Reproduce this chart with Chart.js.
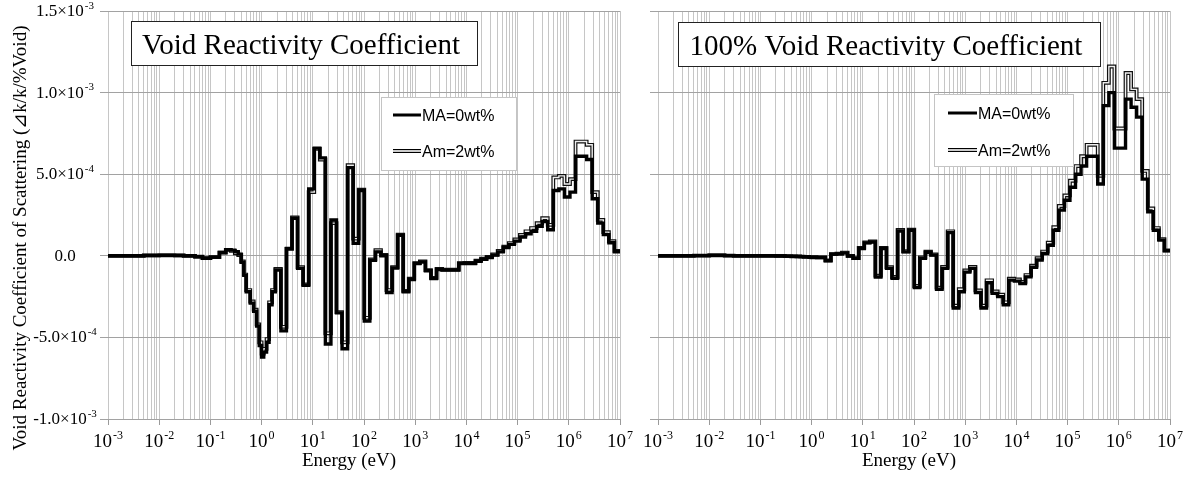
<!DOCTYPE html>
<html>
<head>
<meta charset="utf-8">
<script src="https://cdn.jsdelivr.net/npm/chart.js@4.4.1/dist/chart.umd.min.js"></script>
<style>
  html, body { margin: 0; padding: 0; background: #fff; }
  #wrap { position: relative; width: 1194px; height: 481px; overflow: hidden; }
  #wrap canvas { position: absolute; top: 0; }
  #voidLeft { left: 0; }
  #voidRight { left: 630px; }
</style>
</head>
<body>
<div id="wrap">
  <canvas id="voidLeft" width="640" height="481"></canvas>
  <canvas id="voidRight" width="564" height="481"></canvas>
</div>
<script>
// Group structure: 0.25-lethargy groups from 10 MeV down to ~1.86 eV,
// then a finer set of thermal groups down to 1 meV (lower edges, eV).
const LETHARGY_WIDTH = 0.25;
const FAST_GROUPS = 62;
const thermalEdges = [1.6, 1.4, 1.25, 1.1, 1.0, 0.9, 0.8, 0.7, 0.6, 0.5, 0.45, 0.4, 0.35,
  0.3, 0.25, 0.2, 0.15, 0.1, 0.07, 0.05, 0.03, 0.02, 0.01, 0.005, 0.001];

// Void reactivity (dk/k/%void), group 1 = highest energy
const voidMA0 = [
  2.5e-5, 8.0e-5, 1.3e-4, 2.0e-4, 3.5e-4, 5.9e-4, 6.1e-4, 6.1e-4, 3.9e-4, 3.6e-4,
  4.1e-4, 4.0e-4, 1.6e-4, 2.1e-4, 1.8e-4, 1.5e-4, 1.35e-4, 1.15e-4, 9.0e-5, 7.0e-5,
  5.0e-5, 2.4e-5, 4.0e-6, -1.0e-5, -2.2e-5, -3.3e-5, -4.7e-5, -4.7e-5, -4.7e-5, -8.8e-5,
  -8.8e-5, -8.8e-5, -8.4e-5, -1.4e-4, -9.2e-5, -3.7e-5, -4.7e-5, -1.45e-4, -2.2e-4, 1.25e-4,
  -7.5e-5, -2.25e-4, 0, 2.4e-5, -2.7e-5, -4.0e-4, 4.0e-4, 7.6e-5, 5.4e-4, -5.7e-4,
  -3.5e-4, 2.2e-4, -5.4e-4, 6.0e-4, 6.6e-4, 4.1e-4, -1.8e-4, -7.7e-5, 2.3e-4, 4.5e-5,
  -4.6e-4, -8.7e-5,
  -2.2e-4, -3.0e-4, -5.3e-4, -5.9e-4, -6.2e-4, -5.5e-4, -4.3e-4, -3.4e-4, -2.9e-4, -2.2e-4,
  -1.2e-4, -4.0e-5, 1.0e-5, 2.5e-5, 3.5e-5, 3.8e-5, 2.0e-5, -8.0e-6, -1.5e-5, -6.0e-6,
  0, 2.0e-6, 3.0e-6, 2.0e-6, 0
];
const voidAm2 = [
  3.0e-5, 9.0e-5, 1.45e-4, 2.2e-4, 3.9e-4, 6.8e-4, 7.0e-4, 7.0e-4, 4.7e-4, 4.4e-4,
  4.9e-4, 4.8e-4, 1.9e-4, 2.3e-4, 2.0e-4, 1.7e-4, 1.5e-4, 1.28e-4, 1.0e-4, 7.8e-5,
  5.6e-5, 3.0e-5, 8.0e-6, -6.0e-6, -1.8e-5, -3.0e-5, -4.4e-5, -4.4e-5, -4.5e-5, -8.5e-5,
  -8.5e-5, -8.5e-5, -8.0e-5, -1.35e-4, -8.8e-5, -3.5e-5, -4.5e-5, -1.4e-4, -2.15e-4, 1.3e-4,
  -7.0e-5, -2.1e-4, 5.0e-6, 3.5e-5, -2.2e-5, -3.8e-4, 4.05e-4, 1.05e-4, 5.55e-4, -5.3e-4,
  -3.45e-4, 2.0e-4, -4.75e-4, 5.9e-4, 6.55e-4, 3.9e-4, -1.75e-4, -7.0e-5, 2.35e-4, 4.2e-5,
  -4.35e-4, -8.0e-5,
  -2.1e-4, -2.85e-4, -5.1e-4, -5.7e-4, -6.0e-4, -5.3e-4, -4.2e-4, -3.3e-4, -2.8e-4, -2.1e-4,
  -1.15e-4, -3.5e-5, 5.0e-6, 1.5e-5, 3.0e-5, 3.6e-5, 2.0e-5, -8.0e-6, -1.4e-5, -5.0e-6,
  0, 2.0e-6, 3.0e-6, 2.0e-6, 0
];

// 100% void reactivity
const fullVoidMA0 = [
  3.1e-5, 9.6e-5, 1.57e-4, 2.7e-4, 4.7e-4, 8.5e-4, 9.1e-4, 9.6e-4, 6.6e-4, 6.6e-4,
  1.0e-3, 9.2e-4, 4.4e-4, 6.1e-4, 6.1e-4, 5.5e-4, 5.0e-4, 4.2e-4, 3.4e-4, 2.8e-4,
  1.57e-4, 6.5e-5, 1.4e-5, -2.6e-5, -7.0e-5, -1.29e-4, -1.7e-4, -1.55e-4, -1.49e-4, -3.0e-4,
  -2.5e-4, -2.3e-4, -1.65e-4, -3.2e-4, -2.25e-4, -7.7e-5, -1.0e-4, -2.2e-4, -3.2e-4, 1.42e-4,
  -7.7e-5, -2.05e-4, 4.0e-6, 2.0e-5, -1.6e-5, -1.94e-4, 1.56e-4, 2.4e-5, 1.52e-4, -1.38e-4,
  -7.7e-5, 4.5e-5, -1.3e-4, 8.5e-5, 7.9e-5, 4.5e-5, -1.6e-5, -2.0e-6, 1.8e-5, 1.2e-5,
  1.0e-5, -3.0e-5,
  -1.0e-5, -1.0e-5, -1.0e-5, -9.0e-6, -9.0e-6, -8.0e-6, -6.0e-6, -6.0e-6, -5.0e-6, -4.0e-6,
  -3.0e-6, -3.0e-6, -2.0e-6, -2.0e-6, -1.0e-6, -1.0e-6, 0, 0, 0, 0,
  0, 1.0e-6, 3.0e-6, 1.0e-6, 0
];
const fullVoidAm2 = [
  3.3e-5, 1.02e-4, 1.7e-4, 2.9e-4, 5.2e-4, 9.6e-4, 1.02e-3, 1.12e-3, 7.8e-4, 7.8e-4,
  1.16e-3, 1.06e-3, 4.9e-4, 6.8e-4, 6.8e-4, 6.1e-4, 5.5e-4, 4.6e-4, 3.7e-4, 3.05e-4,
  1.75e-4, 8.0e-5, 2.6e-5, -1.5e-5, -6.0e-5, -1.18e-4, -1.6e-4, -1.45e-4, -1.4e-4, -2.85e-4,
  -2.38e-4, -2.18e-4, -1.5e-4, -3.05e-4, -2.12e-4, -6.8e-5, -9.0e-5, -2.05e-4, -3.05e-4, 1.5e-4,
  -6.8e-5, -1.95e-4, 8.0e-6, 2.5e-5, -1.0e-5, -1.85e-4, 1.6e-4, 2.8e-5, 1.58e-4, -1.3e-4,
  -7.0e-5, 4.8e-5, -1.22e-4, 8.8e-5, 8.2e-5, 4.8e-5, -1.4e-5, 0, 2.0e-5, 1.3e-5,
  1.0e-5, -2.8e-5,
  -1.0e-5, -1.0e-5, -1.0e-5, -9.0e-6, -9.0e-6, -8.0e-6, -6.0e-6, -6.0e-6, -5.0e-6, -4.0e-6,
  -3.0e-6, -3.0e-6, -2.0e-6, -2.0e-6, -1.0e-6, -1.0e-6, 0, 0, 0, 0,
  0, 1.0e-6, 3.0e-6, 1.0e-6, 0
];

const energyExponents = [-3, -2, -1, 0, 1, 2, 3, 4, 5, 6, 7];
const yTickValues = [-1e-3, -5e-4, 0, 5e-4, 1e-3, 1.5e-3];
const yTickLabels = [['-1.0×10', '-3'], ['-5.0×10', '-4'], ['0.0', ''], ['5.0×10', '-4'], ['1.0×10', '-3'], ['1.5×10', '-3']];
const seriesNames = ['MA=0wt%', 'Am=2wt%'];

const SERIF = '"Liberation Serif", "Times New Roman", serif';
const SANS = '"Liberation Sans", Arial, sans-serif';

// group edges, descending energy
const groupEdges = [];
for (let k = 0; k <= FAST_GROUPS; k++) groupEdges.push(1e7 * Math.exp(-LETHARGY_WIDTH * k));
groupEdges.push(...thermalEdges);

// histogram -> points for a 'before' stepped line (ascending energy)
function toSteps(values) {
  const pts = [];
  for (let i = values.length - 1; i >= 0; i--) pts.push({ x: groupEdges[i + 1], y: values[i] });
  pts.push({ x: groupEdges[0], y: values[0] });
  return pts;
}

// 1..9 x 10^n grid on the energy axis
const energyGrid = [];
energyExponents.forEach(e => {
  const top = e === energyExponents[energyExponents.length - 1] ? 1 : 9;
  for (let m = 1; m <= top; m++) energyGrid.push(m * Math.pow(10, e));
});
const isDecade = v => Math.abs(Math.log10(v) - Math.round(Math.log10(v))) < 1e-9;

function drawPower(ctx, base, exp, x, y, size, expSize, align) {
  ctx.font = size + 'px ' + SERIF;
  const wb = ctx.measureText(base).width;
  ctx.font = expSize + 'px ' + SERIF;
  const we = exp ? ctx.measureText(exp).width + 1 : 0;
  const x0 = align === 'center' ? x - (wb + we) / 2 : x - wb - we;
  ctx.textAlign = 'left';
  ctx.font = size + 'px ' + SERIF;
  ctx.fillText(base, x0, y);
  if (exp) {
    ctx.font = expSize + 'px ' + SERIF;
    ctx.fillText(exp, x0 + wb + 1, y - size * 0.42);
  }
}

const panelDecor = {
  id: 'panelDecor',
  afterDraw(chart, args, o) {
    const ctx = chart.ctx;
    const xs = chart.scales.x, ys = chart.scales.y;
    ctx.save();
    ctx.fillStyle = '#000';
    ctx.textBaseline = 'alphabetic';

    energyExponents.forEach(e => {
      drawPower(ctx, '10', String(e), xs.getPixelForValue(Math.pow(10, e)), 447, 19, 12, 'center');
    });

    if (o.valueLabels) {
      yTickValues.forEach((v, i) => {
        drawPower(ctx, yTickLabels[i][0], yTickLabels[i][1], 65, ys.getPixelForValue(v) + 5, 17, 11, 'center');
      });
      ctx.save();
      ctx.translate(20, 238);
      ctx.rotate(-Math.PI / 2);
      ctx.textAlign = 'center';
      ctx.font = '19px ' + SERIF;
      ctx.fillText('Void Reactivity Coefficient of Scattering (⊿k/k/%Void)', 0, 6);
      ctx.restore();
    }

    ctx.textAlign = 'center';
    ctx.font = '19px ' + SERIF;
    ctx.fillText('Energy (eV)', o.axisTitleX, 466);

    // title box
    const [tx0, ty0, tx1, ty1] = o.titleBox;
    ctx.fillStyle = '#fff';
    ctx.fillRect(tx0, ty0, tx1 - tx0, ty1 - ty0);
    ctx.strokeStyle = '#222';
    ctx.lineWidth = 1;
    ctx.strokeRect(tx0 + 0.5, ty0 + 0.5, tx1 - tx0, ty1 - ty0);
    ctx.fillStyle = '#000';
    ctx.font = '29px ' + SERIF;
    ctx.fillText(o.title, o.titleX, ty0 + 33);

    // legend
    const [lx0, ly0, lx1, ly1] = o.legendBox;
    ctx.fillStyle = '#fff';
    ctx.fillRect(lx0, ly0, lx1 - lx0, ly1 - ly0);
    ctx.strokeStyle = '#c4c4c4';
    ctx.strokeRect(lx0 + 0.5, ly0 + 0.5, lx1 - lx0, ly1 - ly0);
    const [sx0, sx1] = o.sample;
    const rows = o.rows;
    ctx.lineCap = 'butt';
    ctx.strokeStyle = '#000';
    ctx.lineWidth = 3;
    ctx.beginPath(); ctx.moveTo(sx0, rows[0]); ctx.lineTo(sx1, rows[0]); ctx.stroke();
    ctx.lineWidth = 4;
    ctx.beginPath(); ctx.moveTo(sx0, rows[1]); ctx.lineTo(sx1, rows[1]); ctx.stroke();
    ctx.strokeStyle = '#fff';
    ctx.lineWidth = 1.6;
    ctx.beginPath(); ctx.moveTo(sx0, rows[1]); ctx.lineTo(sx1, rows[1]); ctx.stroke();
    ctx.fillStyle = '#000';
    ctx.textAlign = 'left';
    ctx.font = '16px ' + SANS;
    seriesNames.forEach((name, i) => ctx.fillText(name, sx1 + 1, rows[i] + 6));
    ctx.restore();
  }
};

function makePanel(canvasId, ma, am, decor, yWidth, rightPad) {
  const maPts = toSteps(ma), amPts = toSteps(am);
  const line = { pointRadius: 0, stepped: true, fill: false, borderJoinStyle: 'miter', borderCapStyle: 'butt' };
  return new Chart(document.getElementById(canvasId), {
    type: 'line',
    data: {
      datasets: [
        Object.assign({ label: seriesNames[0], data: maPts, borderColor: '#000', borderWidth: 3.4, order: 0 }, line),
        Object.assign({ label: seriesNames[1] + ' core', data: amPts, borderColor: '#eeeeee', borderWidth: 1.4, order: 1 }, line),
        Object.assign({ label: seriesNames[1], data: amPts, borderColor: '#111', borderWidth: 3.8, order: 2 }, line)
      ]
    },
    options: {
      responsive: false,
      animation: false,
      layout: { padding: { left: 0, right: rightPad, top: 11, bottom: 0 } },
      plugins: {
        legend: { display: false },
        tooltip: { enabled: false },
        panelDecor: decor
      },
      scales: {
        x: {
          type: 'logarithmic',
          min: 1e-3,
          max: 1e7,
          afterBuildTicks: s => { s.ticks = energyGrid.map(v => ({ value: v })); },
          afterFit: s => { s.height = 62; },
          ticks: { display: false },
          border: { display: false },
          grid: {
            color: '#c6c6c6',
            tickLength: 6,
            tickColor: c => (c.tick && isDecade(c.tick.value)) ? '#9a9a9a' : 'rgba(0,0,0,0)'
          }
        },
        y: {
          min: -1e-3,
          max: 1.5e-3,
          afterBuildTicks: s => { s.ticks = yTickValues.map(v => ({ value: v })); },
          afterFit: s => { s.width = yWidth; },
          ticks: { display: false },
          border: { display: false },
          grid: { color: '#a2a2a2', tickLength: 8, tickColor: '#a2a2a2' }
        }
      }
    },
    plugins: [panelDecor]
  });
}

makePanel('voidLeft', voidMA0, voidAm2, {
  valueLabels: true,
  title: 'Void Reactivity Coefficient',
  titleBox: [131, 21, 477, 65],
  titleX: 301,
  legendBox: [381, 97, 516, 170],
  sample: [393, 421],
  rows: [115, 151],
  axisTitleX: 349
}, 108, 20);

makePanel('voidRight', fullVoidMA0, fullVoidAm2, {
  valueLabels: false,
  title: '100% Void Reactivity Coefficient',
  titleBox: [48, 22, 470, 66],
  titleX: 256,
  legendBox: [304, 94, 443, 166],
  sample: [318, 347],
  rows: [113, 150],
  axisTitleX: 279
}, 28, 24);
</script>
</body>
</html>
